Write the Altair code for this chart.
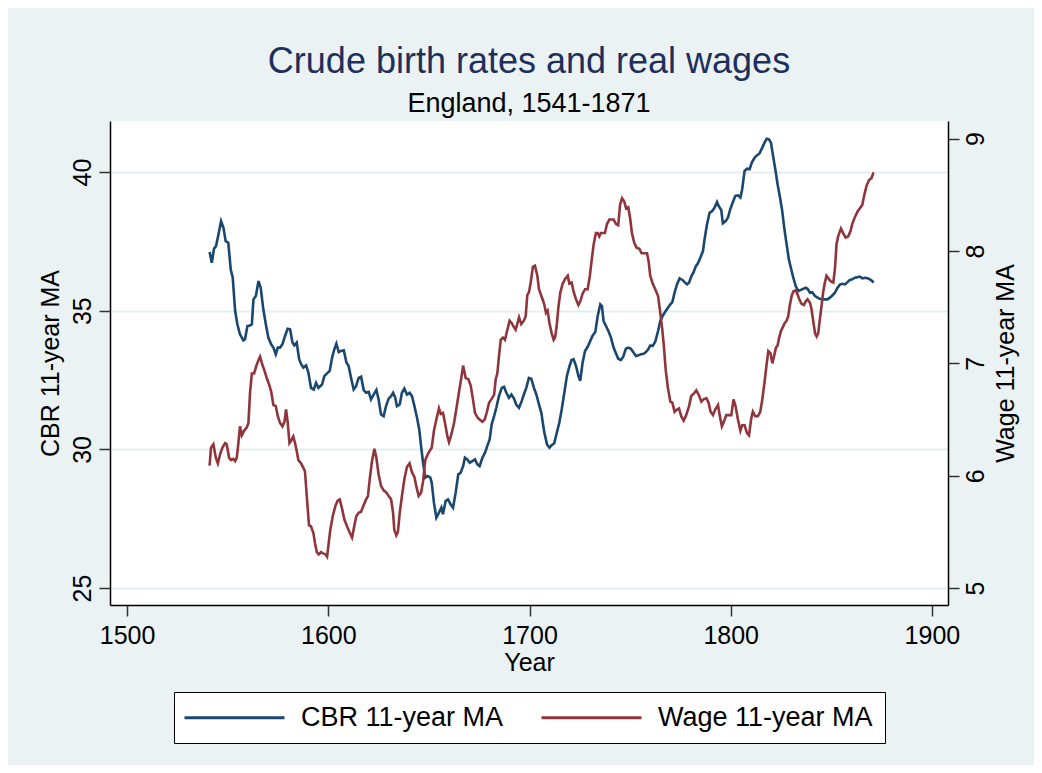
import altair as alt
import pandas as pd

# ---- data ----
cbr_year = [1541.0, 1542.1, 1543.2, 1544.2, 1545.4, 1546.7, 1547.9, 1549.0, 1550.3, 1551.5, 1552.5, 1553.7,
            1554.8, 1556.1, 1557.8, 1558.6, 1559.8, 1561.1, 1562.0, 1562.8, 1564.0, 1565.3, 1566.4, 1567.7,
            1569.1, 1570.2, 1571.6, 1572.7, 1573.9, 1574.9, 1576.0, 1577.2, 1578.5, 1579.8, 1581.0, 1582.2,
            1583.1, 1584.3, 1585.5, 1586.5, 1587.6, 1589.0, 1590.1, 1591.4, 1592.8, 1593.9, 1595.1, 1596.9,
            1598.0, 1599.4, 1600.7, 1601.9, 1603.0, 1604.0, 1605.2, 1606.3, 1607.7, 1609.0, 1610.1, 1611.3,
            1612.6, 1613.8, 1615.1, 1616.3, 1617.6, 1618.8, 1620.1, 1621.2, 1622.6, 1623.9, 1625.0, 1626.2,
            1627.5, 1628.7, 1630.0, 1631.2, 1632.2, 1633.3, 1634.1, 1635.5, 1636.6, 1637.8, 1639.1, 1640.4,
            1641.6, 1642.8, 1644.1, 1645.2, 1646.1, 1647.1, 1648.2, 1649.4, 1650.7, 1651.4, 1652.5, 1653.7,
            1655.0, 1656.2, 1657.0, 1658.3, 1659.5, 1660.8, 1662.0, 1663.3, 1664.6, 1665.8, 1667.0, 1667.9,
            1669.1, 1670.3, 1671.6, 1672.9, 1674.1, 1675.2, 1676.6, 1677.9, 1679.0, 1680.2, 1681.2, 1682.4,
            1683.5, 1684.8, 1686.2, 1687.3, 1688.5, 1689.8, 1691.0, 1692.3, 1693.4, 1694.8, 1696.1, 1697.2,
            1698.4, 1699.7, 1700.9, 1702.2, 1703.4, 1704.7, 1705.9, 1706.6, 1707.4, 1708.7, 1709.9, 1711.0,
            1712.3, 1713.5, 1714.8, 1716.0, 1717.3, 1718.6, 1719.8, 1720.9, 1721.9, 1723.1, 1724.3, 1725.2,
            1726.4, 1727.6, 1728.9, 1730.2, 1731.4, 1732.7, 1733.9, 1735.2, 1736.0, 1736.8, 1738.0, 1739.2,
            1740.5, 1741.8, 1743.0, 1744.1, 1745.4, 1746.6, 1747.9, 1749.1, 1750.4, 1751.7, 1752.9, 1754.1,
            1755.4, 1756.7, 1757.9, 1759.0, 1760.0, 1761.2, 1762.5, 1763.9, 1765.0, 1766.3, 1767.7, 1768.8,
            1770.0, 1771.0, 1772.1, 1773.3, 1774.6, 1776.0, 1777.1, 1778.3, 1779.3, 1780.4, 1781.6, 1782.6,
            1783.7, 1784.9, 1786.2, 1787.0, 1788.2, 1789.5, 1790.8, 1792.0, 1793.2, 1794.2, 1795.3, 1796.1,
            1797.5, 1798.6, 1799.8, 1801.1, 1802.3, 1803.6, 1804.8, 1805.7, 1806.9, 1808.1, 1809.4, 1810.5,
            1811.9, 1813.0, 1814.3, 1815.7, 1816.8, 1817.9, 1819.0, 1820.0, 1821.2, 1822.3, 1823.3, 1824.5,
            1825.6, 1826.6, 1827.8, 1828.9, 1829.9, 1831.1, 1832.3, 1833.6, 1834.9, 1836.1, 1837.2, 1838.2,
            1839.4, 1840.5, 1841.9, 1843.2, 1844.3, 1845.5, 1846.8, 1848.1, 1849.3, 1850.5, 1851.8, 1853.1,
            1854.3, 1855.4, 1856.8, 1858.1, 1859.2, 1860.4, 1861.7, 1863.0, 1864.2, 1865.4, 1866.7, 1868.0,
            1869.2, 1870.3, 1871.0]
cbr_value = [37.12, 36.73, 37.24, 37.33, 37.75, 38.23, 37.99, 37.51, 37.45, 36.49, 36.19, 34.99,
             34.51, 34.15, 33.93, 33.97, 34.45, 34.47, 34.51, 35.41, 35.53, 36.07, 35.83, 35.05,
             34.45, 34.03, 33.79, 33.67, 33.43, 33.67, 33.67, 33.79, 34.09, 34.35, 34.33, 33.85,
             33.75, 33.85, 33.25, 33.07, 32.95, 33.03, 32.77, 32.22, 32.16, 32.40, 32.22, 32.34,
             32.64, 32.74, 32.83, 33.31, 33.61, 33.81, 33.51, 33.55, 33.57, 33.13, 33.01, 32.58,
             32.16, 32.28, 32.58, 32.62, 32.14, 32.04, 32.07, 31.80, 31.98, 32.14, 31.80, 31.26,
             31.20, 31.56, 31.83, 31.92, 32.04, 31.86, 31.56, 31.62, 32.04, 32.19, 31.98, 32.04,
             31.92, 31.56, 31.14, 30.72, 30.12, 29.52, 28.98, 29.04, 28.98, 28.80, 28.08, 27.54,
             27.72, 27.90, 27.66, 28.14, 28.20, 28.02, 27.90, 28.44, 29.10, 29.16, 29.40, 29.70,
             29.64, 29.52, 29.58, 29.64, 29.46, 29.40, 29.70, 29.88, 30.12, 30.36, 30.90, 31.20,
             31.50, 31.92, 32.22, 32.26, 32.04, 31.86, 31.98, 31.83, 31.62, 31.50, 31.74, 31.98,
             32.22, 32.58, 32.55, 32.22, 31.98, 31.62, 31.32, 30.96, 30.60, 30.18, 30.06, 30.15,
             30.22, 30.58, 30.96, 31.44, 32.04, 32.65, 32.98, 33.22, 33.25, 33.01, 32.65, 32.47,
             33.13, 33.55, 33.70, 33.91, 34.11, 34.23, 34.81, 35.23, 35.17, 34.63, 34.45, 34.27,
             34.03, 33.67, 33.46, 33.27, 33.22, 33.34, 33.63, 33.67, 33.63, 33.49, 33.37, 33.39,
             33.43, 33.45, 33.51, 33.61, 33.75, 33.73, 33.88, 34.27, 34.63, 34.83, 34.99, 35.11,
             35.23, 35.31, 35.65, 35.95, 36.17, 36.11, 36.03, 35.95, 36.01, 36.23, 36.40, 36.59,
             36.71, 36.91, 37.15, 37.57, 38.11, 38.53, 38.59, 38.72, 38.92, 38.75, 38.63, 38.15,
             38.23, 38.35, 38.66, 38.92, 39.14, 39.16, 39.08, 39.38, 40.04, 40.12, 40.10, 40.34,
             40.52, 40.60, 40.67, 40.88, 41.06, 41.20, 41.18, 41.06, 40.52, 40.04, 39.56, 39.08,
             38.60, 37.99, 37.39, 36.85, 36.55, 36.19, 35.89, 35.71, 35.75, 35.79, 35.83, 35.79,
             35.65, 35.67, 35.53, 35.47, 35.43, 35.41, 35.41, 35.41, 35.47, 35.55, 35.65, 35.83,
             35.94, 35.97, 35.95, 36.03, 36.11, 36.13, 36.19, 36.21, 36.23, 36.17, 36.19, 36.17,
             36.13, 36.07, 36.01]

wage_year = [1541.0, 1541.7, 1542.9, 1544.1, 1545.1, 1546.2, 1547.4, 1548.7, 1549.5, 1550.7, 1551.7, 1552.8,
             1553.7, 1554.5, 1555.3, 1556.1, 1557.0, 1558.1, 1559.5, 1560.3, 1561.1, 1562.0, 1563.1, 1564.1,
             1565.3, 1566.1, 1567.2, 1568.2, 1569.4, 1570.6, 1571.6, 1572.7, 1573.9, 1574.9, 1576.0, 1577.2,
             1578.2, 1579.0, 1579.8, 1580.7, 1581.5, 1582.6, 1583.5, 1584.3, 1585.1, 1586.5, 1587.6, 1588.4,
             1589.3, 1590.4, 1591.4, 1592.6, 1593.4, 1594.3, 1595.2, 1596.4, 1597.4, 1598.6, 1599.4, 1600.2,
             1601.0, 1602.2, 1603.5, 1604.7, 1605.7, 1606.8, 1608.0, 1609.3, 1610.5, 1611.8, 1613.0, 1613.9,
             1615.1, 1616.3, 1617.6, 1618.8, 1619.7, 1620.6, 1621.7, 1622.9, 1623.9, 1625.0, 1626.2, 1627.5,
             1628.9, 1630.0, 1631.2, 1632.2, 1632.8, 1633.8, 1634.6, 1635.5, 1636.6, 1637.8, 1639.1, 1640.4,
             1641.6, 1642.8, 1643.7, 1644.9, 1646.1, 1647.1, 1648.2, 1649.4, 1650.7, 1651.4, 1652.5, 1653.7,
             1655.0, 1655.9, 1657.0, 1658.0, 1659.2, 1660.0, 1661.2, 1662.5, 1663.6, 1665.0, 1666.1, 1667.0,
             1668.3, 1669.6, 1670.8, 1671.9, 1672.9, 1674.1, 1675.2, 1676.6, 1677.7, 1678.7, 1679.9, 1681.0,
             1682.4, 1683.2, 1684.0, 1684.8, 1685.7, 1686.8, 1687.8, 1689.0, 1690.1, 1691.1, 1692.3, 1693.1,
             1693.9, 1694.8, 1695.9, 1697.2, 1698.1, 1698.9, 1699.7, 1700.6, 1701.7, 1702.7, 1703.9, 1704.7,
             1705.9, 1706.7, 1707.4, 1708.2, 1709.0, 1709.9, 1711.0, 1712.0, 1712.7, 1713.5, 1714.3, 1715.3,
             1716.5, 1717.6, 1719.0, 1719.8, 1720.9, 1721.9, 1723.1, 1724.3, 1725.2, 1726.4, 1727.6, 1728.9,
             1730.0, 1730.9, 1731.9, 1733.0, 1733.9, 1734.7, 1735.5, 1736.7, 1737.5, 1738.5, 1739.7, 1740.8,
             1741.8, 1743.0, 1744.1, 1745.0, 1746.0, 1747.1, 1748.0, 1749.1, 1750.1, 1750.9, 1752.1, 1753.2,
             1754.6, 1755.7, 1757.0, 1758.4, 1759.2, 1760.0, 1761.2, 1762.5, 1763.9, 1765.0, 1766.0, 1766.8,
             1767.7, 1768.8, 1770.0, 1771.0, 1772.1, 1773.3, 1774.3, 1775.4, 1776.6, 1777.9, 1779.3, 1780.4,
             1781.6, 1782.9, 1784.1, 1785.4, 1786.5, 1787.9, 1789.0, 1790.0, 1791.2, 1792.3, 1793.7, 1794.5,
             1795.6, 1796.6, 1797.8, 1799.1, 1800.3, 1801.4, 1802.4, 1803.6, 1804.8, 1805.7, 1806.9, 1808.1,
             1809.1, 1810.2, 1811.0, 1812.2, 1813.5, 1814.7, 1815.7, 1816.8, 1817.9, 1818.7, 1819.8, 1820.7,
             1821.5, 1822.5, 1823.3, 1824.1, 1825.0, 1826.1, 1826.9, 1827.8, 1828.6, 1829.4, 1830.3, 1831.1,
             1832.3, 1833.3, 1834.1, 1835.2, 1836.4, 1837.2, 1838.2, 1839.4, 1840.2, 1841.0, 1841.9, 1842.7,
             1843.5, 1844.3, 1845.2, 1846.0, 1846.8, 1847.6, 1848.8, 1849.8, 1851.0, 1851.8, 1852.6, 1853.4,
             1854.8, 1855.9, 1857.1, 1858.4, 1859.6, 1860.4, 1861.7, 1863.0, 1864.2, 1865.4, 1866.4, 1867.5,
             1868.7, 1870.0, 1871.0]
wage_value = [6.09, 6.25, 6.28, 6.16, 6.11, 6.19, 6.25, 6.29, 6.28, 6.16, 6.14, 6.15,
              6.13, 6.16, 6.29, 6.44, 6.36, 6.40, 6.43, 6.47, 6.74, 6.91, 6.91, 6.97,
              7.03, 7.06, 6.99, 6.94, 6.87, 6.81, 6.75, 6.63, 6.62, 6.53, 6.47, 6.44,
              6.48, 6.59, 6.48, 6.29, 6.31, 6.35, 6.29, 6.22, 6.14, 6.11, 6.07, 6.04,
              5.82, 5.56, 5.55, 5.49, 5.40, 5.32, 5.30, 5.32, 5.31, 5.30, 5.28, 5.40,
              5.52, 5.64, 5.73, 5.78, 5.79, 5.71, 5.61, 5.55, 5.50, 5.45, 5.56, 5.64,
              5.67, 5.68, 5.74, 5.79, 5.82, 5.97, 6.13, 6.24, 6.16, 6.01, 5.91, 5.87,
              5.85, 5.82, 5.79, 5.67, 5.52, 5.47, 5.50, 5.67, 5.82, 5.97, 6.08, 6.11,
              6.03, 5.99, 5.91, 5.82, 5.85, 5.95, 6.14, 6.19, 6.23, 6.25, 6.40, 6.50,
              6.60, 6.55, 6.56, 6.47, 6.35, 6.30, 6.37, 6.47, 6.59, 6.75, 6.87, 6.98,
              6.87, 6.86, 6.80, 6.68, 6.56, 6.52, 6.50, 6.48, 6.50, 6.56, 6.65, 6.68,
              6.72, 6.86, 6.91, 7.06, 7.21, 7.23, 7.21, 7.30, 7.38, 7.36, 7.32, 7.30,
              7.35, 7.41, 7.35, 7.38, 7.42, 7.61, 7.63, 7.72, 7.86, 7.87, 7.78, 7.66,
              7.60, 7.56, 7.52, 7.45, 7.47, 7.36, 7.27, 7.21, 7.23, 7.33, 7.49, 7.63,
              7.71, 7.75, 7.78, 7.71, 7.72, 7.64, 7.57, 7.52, 7.55, 7.62, 7.66, 7.66,
              7.78, 7.92, 8.06, 8.16, 8.16, 8.13, 8.16, 8.16, 8.16, 8.24, 8.28, 8.28,
              8.28, 8.24, 8.23, 8.41, 8.47, 8.44, 8.38, 8.39, 8.28, 8.16, 8.07, 8.03,
              8.02, 7.98, 7.98, 7.98, 7.91, 7.78, 7.71, 7.66, 7.60, 7.45, 7.30, 7.15,
              6.94, 6.78, 6.66, 6.65, 6.57, 6.59, 6.60, 6.53, 6.49, 6.54, 6.62, 6.71,
              6.73, 6.76, 6.72, 6.66, 6.68, 6.69, 6.65, 6.57, 6.54, 6.59, 6.63, 6.54,
              6.44, 6.48, 6.54, 6.54, 6.54, 6.68, 6.62, 6.50, 6.40, 6.45, 6.45, 6.38,
              6.36, 6.51, 6.57, 6.53, 6.53, 6.57, 6.68, 6.83, 7.00, 7.11, 7.09, 7.00,
              7.06, 7.14, 7.16, 7.23, 7.29, 7.33, 7.36, 7.38, 7.42, 7.52, 7.60, 7.64,
              7.65, 7.61, 7.57, 7.53, 7.52, 7.55, 7.57, 7.54, 7.48, 7.38, 7.27, 7.24,
              7.27, 7.39, 7.52, 7.64, 7.72, 7.78, 7.75, 7.73, 7.72, 7.84, 8.06, 8.13,
              8.20, 8.16, 8.12, 8.13, 8.18, 8.24, 8.30, 8.35, 8.38, 8.41, 8.50, 8.58,
              8.63, 8.65, 8.70]

series_names = ["CBR 11-year MA", "Wage 11-year MA"]
series_colors = ["#1A476F", "#90353B"]
x_ticks = [1500, 1600, 1700, 1800, 1900]
cbr_ticks = [25, 30, 35, 40]
wage_ticks = [5, 6, 7, 8, 9]

cbr_df = pd.DataFrame({"year": cbr_year, "cbr": cbr_value, "series": series_names[0]})
wage_df = pd.DataFrame({"year": wage_year, "wage": wage_value, "series": series_names[1]})

FONT = "Liberation Sans"
BG = "#EAF2F3"

color = alt.Color(
    "series:N",
    scale=alt.Scale(domain=series_names, range=series_colors),
    legend=alt.Legend(
        title=None, orient="none", legendX=64, legendY=571, direction="horizontal",
        symbolType="M-1.5,0H8.5", symbolSize=400, symbolStrokeWidth=3, symbolOffset=0,
        labelFontSize=27, labelFont=FONT, labelColor="black", labelLimit=400,
        labelBaseline="middle",
        fillColor="white", strokeColor="black", padding=12, labelOffset=88,
        columnPadding=31, symbolOpacity=1,
    ),
)

x_enc = alt.X(
    "year:Q",
    scale=alt.Scale(domain=[1491.5, 1908], nice=False, zero=False),
    axis=alt.Axis(values=x_ticks, format="d", title="Year", grid=False,
                  labelFontSize=25, titleFontSize=25, labelFont=FONT, titleFont=FONT,
                  labelColor="black", titleColor="black", titleFontWeight="normal",
                  domainColor="black", domainWidth=1.5, tickColor="#333333", tickWidth=1.5,
                  tickSize=11, labelPadding=7, titlePadding=2),
)

cbr_line = alt.Chart(cbr_df).mark_line(strokeWidth=2.6).encode(
    x=x_enc,
    y=alt.Y("cbr:Q",
            scale=alt.Scale(domain=[24.39, 41.84], nice=False, zero=False),
            axis=alt.Axis(orient="left", values=cbr_ticks, title="CBR 11-year MA",
                          grid=True, gridColor="#E4EDEF", gridWidth=2,
                          labelAngle=270, labelAlign="center", labelBaseline="bottom",
                          labelFontSize=25, titleFontSize=25, labelFont=FONT, titleFont=FONT,
                          labelColor="black", titleColor="black", titleFontWeight="normal",
                          titleAngle=270, titleX=-60, titleY=242, titleAlign="center",
                          titleBaseline="middle",
                          domainColor="black", domainWidth=1.5, tickColor="#333333",
                          tickWidth=1.5, tickSize=11, labelPadding=4)),
    color=color,
)

wage_line = alt.Chart(wage_df).mark_line(strokeWidth=2.6).encode(
    x=x_enc,
    y=alt.Y("wage:Q",
            scale=alt.Scale(domain=[4.85, 9.157], nice=False, zero=False),
            axis=alt.Axis(orient="right", values=wage_ticks, title="Wage 11-year MA",
                          grid=False,
                          labelAngle=270, labelAlign="center", labelBaseline="top",
                          labelFontSize=25, titleFontSize=25, labelFont=FONT, titleFont=FONT,
                          labelColor="black", titleColor="black", titleFontWeight="normal",
                          titleAngle=270, titleX=57, titleY=242, titleAlign="center",
                          titleBaseline="middle",
                          domainColor="black", domainWidth=1.5, tickColor="#333333",
                          tickWidth=1.5, tickSize=11, labelPadding=4)),
    color=color,
)

chart = (
    alt.layer(cbr_line, wage_line)
    .resolve_scale(y="independent")
    .properties(
        width=838, height=484,
        title=alt.TitleParams(
            text="Crude birth rates and real wages", subtitle="England, 1541-1871",
            font=FONT, subtitleFont=FONT, fontSize=36, subtitleFontSize=27,
            fontWeight="normal", color="#1F2F5C", subtitleColor="black",
            anchor="middle", offset=3, subtitlePadding=10,
        ),
        autosize=alt.AutoSizeParams(type="none"),
        padding={"left": 102, "top": 113, "right": 86, "bottom": 160},
        background=BG,
    )
    .configure_view(fill="white", stroke=None)
)

chart.save("out.html", embed_options={"renderer": "svg", "actions": False})
